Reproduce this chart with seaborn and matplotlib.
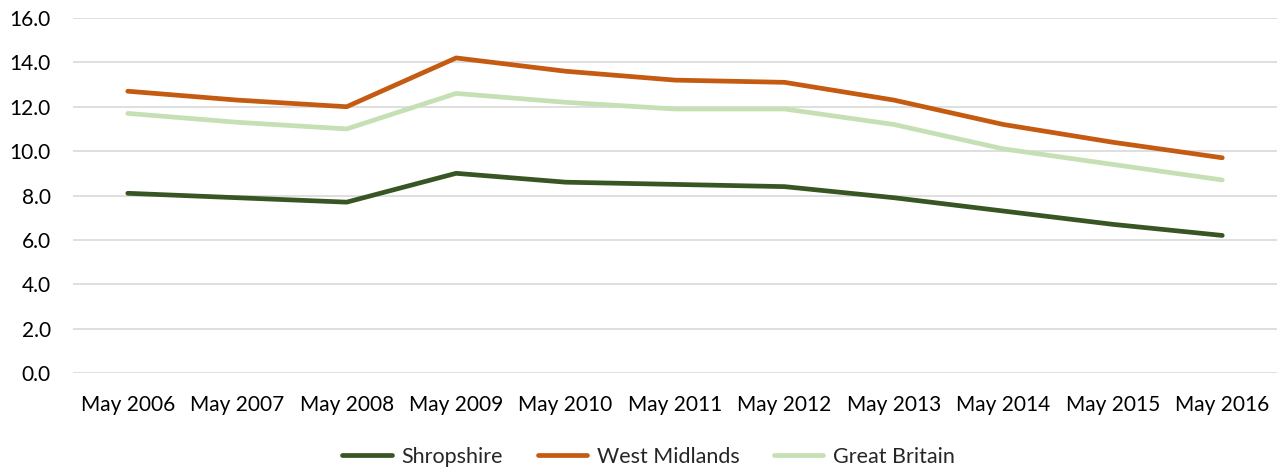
import numpy as np
import pandas as pd
import matplotlib
matplotlib.use('Agg')
import matplotlib.pyplot as plt
import seaborn as sns

# data
months = ['May 2006', 'May 2007', 'May 2008', 'May 2009', 'May 2010', 'May 2011',
          'May 2012', 'May 2013', 'May 2014', 'May 2015', 'May 2016']
shropshire = [8.1, 7.9, 7.7, 9.0, 8.6, 8.5, 8.4, 7.9, 7.3, 6.7, 6.2]
west_midlands = [12.7, 12.3, 12.0, 14.2, 13.6, 13.2, 13.1, 12.3, 11.2, 10.4, 9.7]
great_britain = [11.7, 11.3, 11.0, 12.6, 12.2, 11.9, 11.9, 11.2, 10.1, 9.4, 8.7]
series_names = ['Shropshire', 'West Midlands', 'Great Britain']
colours = ['#375623', '#C55A11', '#C5E0B4']

df = pd.DataFrame({
    'month': months * 3,
    'value': shropshire + west_midlands + great_britain,
    'series': np.repeat(series_names, len(months)),
})

sns.set_style('white')
plt.rcParams['font.family'] = ['Lato', 'DejaVu Sans']

fig = plt.figure(figsize=(12.77, 4.72), dpi=100)
ax = fig.add_axes([0.0572, 0.2097, 0.9428, 0.7522])

sns.lineplot(data=df, x='month', y='value', hue='series', hue_order=series_names,
             palette=colours, linewidth=3.4, ax=ax, legend=False,
             solid_capstyle='round', solid_joinstyle='round')

ax.set_ylim(0, 16)
ax.set_xlim(-0.5, len(months) - 0.5)
ax.set_yticks(np.arange(0, 17, 2))
ax.set_yticklabels(['%.1f' % v for v in np.arange(0, 17, 2)])
ax.grid(axis='y', color='#D9D9D9', linewidth=1.2)
ax.set_axisbelow(True)
for s in ax.spines.values():
    s.set_visible(False)
ax.tick_params(axis='both', length=0, labelsize=15, colors='#000000')
ax.tick_params(axis='x', pad=16)
ax.tick_params(axis='y', pad=16)
ax.set_xlabel('')
ax.set_ylabel('')

handles = [plt.Line2D([], [], color=c, linewidth=3.4, solid_capstyle='round') for c in colours]
fig.legend(handles, series_names, loc='center', bbox_to_anchor=(0.508, 0.032), ncol=3,
           frameon=False, fontsize=15.5, handlelength=2.3, columnspacing=1.6, handletextpad=0.45)

fig.savefig('out.png', dpi=100)
